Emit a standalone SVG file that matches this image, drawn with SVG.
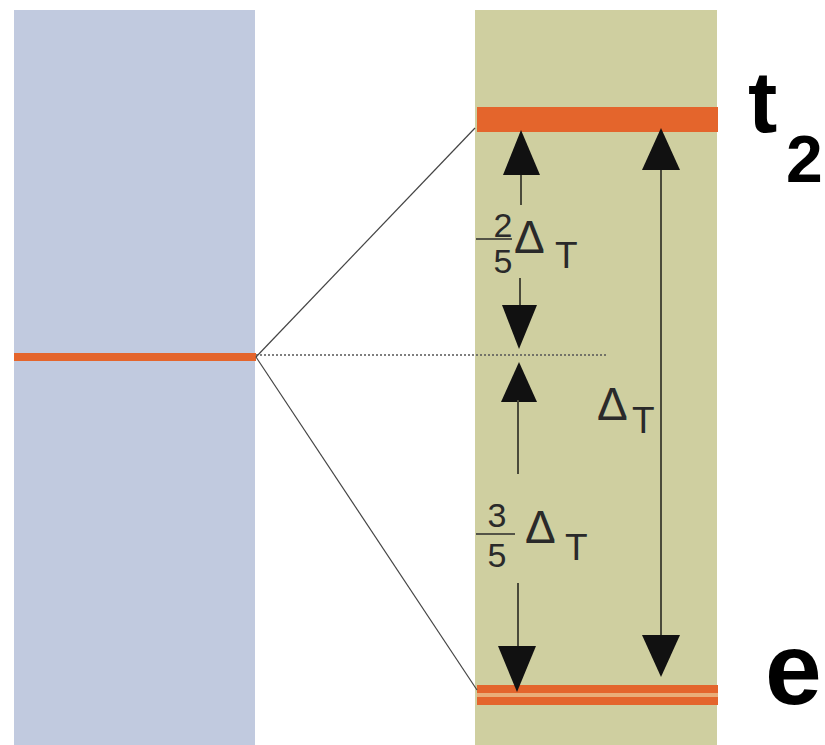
<svg xmlns="http://www.w3.org/2000/svg" width="825" height="745" viewBox="0 0 825 745">
<style>
.shaft{stroke:#4a4a3a;stroke-width:2;fill:none}
.head{fill:#111}
.lbl{font-family:"Liberation Sans",Arial,sans-serif;fill:#2a2a2a;font-size:34px}
.tl{font-family:"Liberation Sans",Arial,sans-serif;fill:#2a2a2a;font-size:37px}
.dl{font-family:"Liberation Sans",Arial,sans-serif;fill:#2a2a2a;font-size:46px}
.big{font-family:"Liberation Sans",Arial,sans-serif;font-weight:bold;fill:#000}
.orange{fill:#e4652c}
</style>
<rect width="825" height="745" fill="#ffffff"/>
<g id="left-column">
<rect x="14" y="10" width="241" height="735" fill="#c1cadf"/>
<rect x="14" y="353" width="242" height="8" class="orange"/>
</g>
<g id="right-column">
<rect x="475" y="10" width="242" height="735" fill="#cfcfa0"/>
<rect x="477" y="107" width="241" height="25" class="orange"/>
<rect x="477" y="692" width="241" height="6" fill="#e9ad78"/>
<rect x="477" y="685" width="241" height="8" class="orange"/>
<rect x="477" y="697" width="241" height="8" class="orange"/>
</g>
<g id="connectors">
<line x1="256" y1="357" x2="475" y2="128" stroke="#444" stroke-width="1.2"/>
<line x1="256" y1="357" x2="477" y2="690" stroke="#444" stroke-width="1.2"/>
<line x1="256" y1="355" x2="608" y2="355" stroke="#555" stroke-width="1.6" stroke-dasharray="2 2"/>
<line class="shaft" x1="521" y1="172" x2="521" y2="205"/>
<polygon class="head" points="521,130 503,175 540,175"/>
<line class="shaft" x1="520" y1="278" x2="520" y2="308"/>
<polygon class="head" points="519,349 502,305 537,305"/>
<polygon class="head" points="519,362 501,402 537,402"/>
<line class="shaft" x1="518" y1="400" x2="518" y2="474"/>
<line class="shaft" x1="518" y1="583" x2="518" y2="648"/>
<polygon class="head" points="517,692 498,646 536,646"/>
<line class="shaft" x1="661" y1="165" x2="661" y2="640"/>
<polygon class="head" points="661,128 642,170 680,170"/>
<polygon class="head" points="661,677 642,635 680,635"/>
</g>
<g id="label-two-fifths">
<text class="lbl" x="503" y="237" text-anchor="middle">2</text>
<line x1="476" y1="239" x2="512" y2="239" stroke="#2a2a2a" stroke-width="1.5"/>
<text class="lbl" x="503" y="273" text-anchor="middle">5</text>
<text class="dl" x="514" y="253">Δ</text>
<text class="tl" x="555" y="268">T</text>
</g>
<g id="label-three-fifths">
<text class="lbl" x="497" y="527" text-anchor="middle">3</text>
<line x1="476" y1="534" x2="515" y2="534" stroke="#2a2a2a" stroke-width="1.5"/>
<text class="lbl" x="497" y="567" text-anchor="middle">5</text>
<text class="dl" x="525" y="543">Δ</text>
<text class="tl" x="565" y="560">T</text>
</g>
<g id="label-delta-t">
<text class="dl" x="597" y="420">Δ</text>
<text class="tl" x="632" y="433">T</text>
</g>
<g id="label-t2">
<text class="big" x="748" y="132" font-size="88">t</text>
<text class="big" x="786" y="182" font-size="66">2</text>
</g>
<g id="label-e">
<text class="big" x="765" y="704" font-size="102">e</text>
</g>
</svg>
